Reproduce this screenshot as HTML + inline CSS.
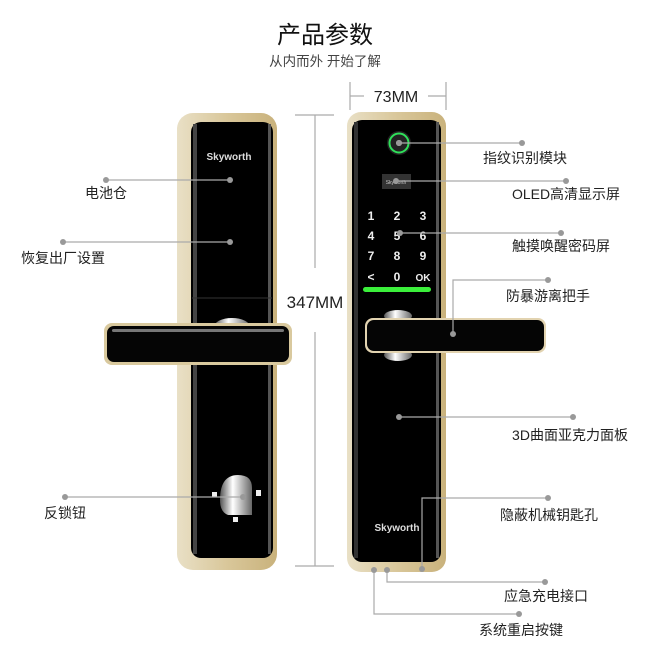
<!DOCTYPE html>
<html><head><meta charset="utf-8"><style>
html,body{margin:0;padding:0;background:#fff;}
svg{display:block;}
text{font-family:"Liberation Sans","Noto Sans CJK SC",sans-serif;}
</style></head><body>
<svg width="650" height="650" viewBox="0 0 650 650" xmlns="http://www.w3.org/2000/svg">
<defs>
<linearGradient id="gold" x1="0" x2="1" y1="0" y2="0">
<stop offset="0" stop-color="#e9e0c6"/><stop offset="0.5" stop-color="#d9c79a"/><stop offset="1" stop-color="#c9b27c"/>
</linearGradient>
<linearGradient id="chrome" x1="0" x2="1">
<stop offset="0" stop-color="#555"/><stop offset="0.4" stop-color="#fff"/><stop offset="1" stop-color="#666"/>
</linearGradient>
</defs>

<text x="325" y="43" font-size="24" text-anchor="middle" fill="#111">产品参数</text>
<text x="325" y="66" font-size="13.5" text-anchor="middle" fill="#444">从内而外 开始了解</text>

<g stroke="#aaa" stroke-width="1.2" fill="none">
<line x1="350" y1="82" x2="350" y2="110"/><line x1="446" y1="82" x2="446" y2="110"/>
<line x1="350" y1="96" x2="364" y2="96"/><line x1="428" y1="96" x2="446" y2="96"/>
</g>
<text x="396" y="102" font-size="16" text-anchor="middle" fill="#222">73MM</text>

<g stroke="#aaa" stroke-width="1.2" fill="none">
<line x1="295" y1="115" x2="334" y2="115"/><line x1="295" y1="566" x2="334" y2="566"/>
<line x1="315" y1="115" x2="315" y2="268"/><line x1="315" y1="332" x2="315" y2="566"/>
</g>
<text x="315" y="308" font-size="17" text-anchor="middle" fill="#222">347MM</text>

<!-- LEFT LOCK -->
<rect x="177" y="113" width="100" height="457" rx="16" fill="url(#gold)"/>
<rect x="191" y="122" width="82" height="436" rx="10" fill="#000"/>
<rect x="193" y="124" width="4" height="430" fill="#444"/>
<rect x="268" y="124" width="3" height="430" fill="#555"/>
<text x="229" y="160" font-size="10" font-weight="bold" text-anchor="middle" fill="#ddd">Skyworth</text>
<line x1="192" y1="298" x2="272" y2="298" stroke="#333" stroke-width="1"/>
<ellipse cx="232" cy="327" rx="18" ry="9" fill="url(#chrome)"/>
<rect x="104" y="323" width="188" height="42" rx="8" fill="#d9c99e"/>
<rect x="107" y="326" width="182" height="36" rx="7" fill="#050505"/>
<rect x="112" y="329" width="172" height="3" rx="1.5" fill="#777"/>
<path d="M220 500 Q220 475 238 475 Q252 475 252 488 L252 515 L228 515 Q220 512 220 500 Z" fill="url(#chrome)"/>
<rect x="212" y="492" width="5" height="5" fill="#eee"/><rect x="256" y="490" width="5" height="6" fill="#eee"/><rect x="233" y="517" width="5" height="5" fill="#eee"/>

<!-- RIGHT LOCK -->
<rect x="347" y="112" width="99" height="460" rx="14" fill="url(#gold)"/>
<rect x="352" y="120" width="89" height="442" rx="10" fill="#000"/>
<rect x="354" y="122" width="4" height="436" fill="#333"/>
<rect x="436" y="122" width="3" height="436" fill="#555"/>
<circle cx="399" cy="143" r="12" fill="#222"/>
<circle cx="399" cy="143" r="9.5" fill="none" stroke="#2fe05a" stroke-width="2"/>
<circle cx="399" cy="143" r="3" fill="#ccc"/>
<rect x="382" y="174" width="29" height="15" fill="#333"/>
<text x="396" y="184" font-size="5" text-anchor="middle" fill="#ccc">Skyworth</text>
<g font-size="12" font-weight="bold" fill="#eee" text-anchor="middle">
<text x="371" y="220">1</text><text x="397" y="220">2</text><text x="423" y="220">3</text>
<text x="371" y="240">4</text><text x="397" y="240">5</text><text x="423" y="240">6</text>
<text x="371" y="260">7</text><text x="397" y="260">8</text><text x="423" y="260">9</text>
<text x="371" y="281">&lt;</text><text x="397" y="281">0</text><text x="423" y="281" font-size="10">OK</text>
</g>
<rect x="363" y="287" width="68" height="5" rx="2.5" fill="#3bef3b"/>
<ellipse cx="398" cy="316" rx="14" ry="6" fill="url(#chrome)"/>
<ellipse cx="398" cy="355" rx="14" ry="6" fill="url(#chrome)"/>
<rect x="365" y="318" width="181" height="35" rx="8" fill="#e2d3b0"/>
<rect x="367" y="320" width="177" height="31" rx="7" fill="#050505"/>
<text x="397" y="531" font-size="10" font-weight="bold" text-anchor="middle" fill="#ddd">Skyworth</text>

<g stroke="#aaa" stroke-width="1.2" fill="none">
<line x1="106" y1="180" x2="230" y2="180"/>
<line x1="63" y1="242" x2="230" y2="242"/>
<line x1="65" y1="497" x2="243" y2="497"/>
<line x1="399" y1="143" x2="522" y2="143"/>
<line x1="396" y1="181" x2="566" y2="181"/>
<line x1="400" y1="233" x2="561" y2="233"/>
<polyline points="453,334 453,280 548,280"/>
<line x1="399" y1="417" x2="573" y2="417"/>
<polyline points="422,569 422,498 548,498"/>
<polyline points="387,570 387,582 545,582"/>
<polyline points="374,570 374,614 519,614"/>
</g>
<g fill="#999">
<circle cx="106" cy="180" r="3"/><circle cx="230" cy="180" r="3"/>
<circle cx="63" cy="242" r="3"/><circle cx="230" cy="242" r="3"/>
<circle cx="65" cy="497" r="3"/><circle cx="243" cy="497" r="3"/>
<circle cx="399" cy="143" r="3"/><circle cx="522" cy="143" r="3"/>
<circle cx="396" cy="181" r="3"/><circle cx="566" cy="181" r="3"/>
<circle cx="400" cy="233" r="3"/><circle cx="561" cy="233" r="3"/>
<circle cx="453" cy="334" r="3"/><circle cx="548" cy="280" r="3"/>
<circle cx="399" cy="417" r="3"/><circle cx="573" cy="417" r="3"/>
<circle cx="422" cy="569" r="3"/><circle cx="548" cy="498" r="3"/>
<circle cx="387" cy="570" r="3"/><circle cx="545" cy="582" r="3"/>
<circle cx="374" cy="570" r="3"/><circle cx="519" cy="614" r="3"/>
</g>

<g font-size="14" fill="#222" text-anchor="middle">
<text x="106" y="198">电池仓</text>
<text x="63" y="263">恢复出厂设置</text>
<text x="65" y="518">反锁钮</text>
<text x="525" y="163">指纹识别模块</text>
<text x="566" y="199">OLED高清显示屏</text>
<text x="561" y="251">触摸唤醒密码屏</text>
<text x="548" y="301">防暴游离把手</text>
<text x="570" y="440">3D曲面亚克力面板</text>
<text x="549" y="520">隐蔽机械钥匙孔</text>
<text x="546" y="601">应急充电接口</text>
<text x="521" y="635">系统重启按键</text>
</g>
</svg>
</body></html>
